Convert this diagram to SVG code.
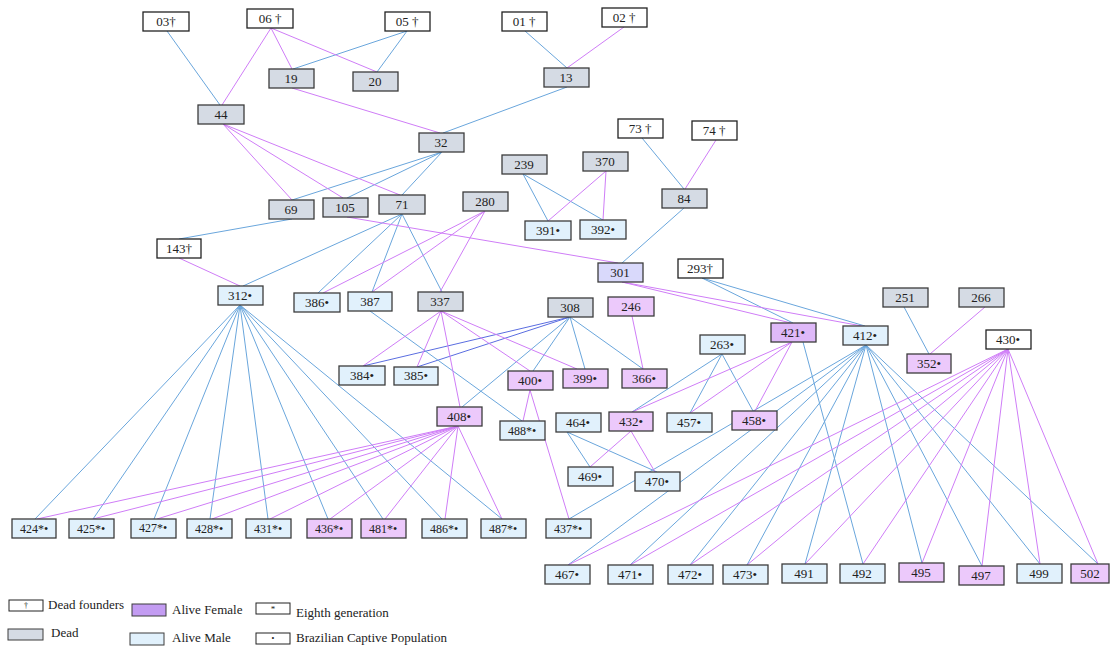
<svg xmlns="http://www.w3.org/2000/svg" width="1110" height="648" viewBox="0 0 1110 648">
<style>
rect{stroke:#3c3c3c;stroke-width:1.3}
.fnd{fill:#ffffff;stroke:#222}
.dead{fill:#d5dbe4}
.male{fill:#e1f1fc}
.fem{fill:#ecc9fb}
.fem2{fill:#dfb9f9}
.lav{fill:#d9d9fb}
.lgr{stroke-width:1}
text{font-family:"Liberation Serif","Times New Roman",serif;font-size:13px;fill:#222;text-anchor:middle}
.s{font-size:12px}
.lg{text-anchor:start;font-size:13px}
line{stroke-width:1;fill:none}
.b{stroke:#6aa6dc}
.bd{stroke:#5a6de0}
.m{stroke:#cf7df7}
</style>
<g id="connectors">
<line class="b" x1="167" y1="31" x2="220" y2="105"/>
<line class="b" x1="407" y1="31" x2="293" y2="69"/>
<line class="b" x1="407" y1="31" x2="377" y2="72"/>
<line class="b" x1="525" y1="31" x2="567" y2="68"/>
<line class="b" x1="567" y1="87" x2="443" y2="133"/>
<line class="b" x1="442" y1="152" x2="292" y2="200"/>
<line class="b" x1="442" y1="152" x2="347" y2="198"/>
<line class="b" x1="442" y1="152" x2="402" y2="195"/>
<line class="b" x1="642" y1="138" x2="684" y2="189"/>
<line class="b" x1="523" y1="174" x2="548" y2="221"/>
<line class="b" x1="523" y1="174" x2="603" y2="220"/>
<line class="b" x1="684" y1="208" x2="622" y2="263"/>
<line class="b" x1="292" y1="219" x2="179" y2="239"/>
<line class="b" x1="402" y1="214" x2="243" y2="286"/>
<line class="b" x1="402" y1="214" x2="318" y2="293"/>
<line class="b" x1="402" y1="214" x2="372" y2="292"/>
<line class="b" x1="402" y1="214" x2="442" y2="292"/>
<line class="b" x1="702" y1="278" x2="793" y2="323"/>
<line class="b" x1="702" y1="278" x2="865" y2="326"/>
<line class="b" x1="904" y1="307" x2="929" y2="354"/>
<line class="bd" x1="570" y1="317" x2="363" y2="366"/>
<line class="bd" x1="570" y1="317" x2="417" y2="367"/>
<line class="b" x1="570" y1="317" x2="462" y2="407"/>
<line class="b" x1="570" y1="317" x2="533" y2="371"/>
<line class="b" x1="570" y1="317" x2="585" y2="369"/>
<line class="b" x1="570" y1="317" x2="643" y2="369"/>
<line class="b" x1="370" y1="311" x2="522" y2="421"/>
<line class="b" x1="722" y1="354" x2="632" y2="412"/>
<line class="b" x1="722" y1="354" x2="690" y2="413"/>
<line class="b" x1="722" y1="354" x2="753" y2="411"/>
<line class="b" x1="567" y1="432" x2="590" y2="467"/>
<line class="b" x1="567" y1="432" x2="657" y2="472"/>
<line class="b" x1="866" y1="345" x2="569" y2="519"/>
<line class="b" x1="866" y1="345" x2="568" y2="565"/>
<line class="b" x1="866" y1="345" x2="630" y2="565"/>
<line class="b" x1="866" y1="345" x2="690" y2="565"/>
<line class="b" x1="866" y1="345" x2="747" y2="565"/>
<line class="b" x1="866" y1="345" x2="805" y2="564"/>
<line class="b" x1="866" y1="345" x2="922" y2="563"/>
<line class="b" x1="866" y1="345" x2="982" y2="566"/>
<line class="b" x1="866" y1="345" x2="1040" y2="564"/>
<line class="b" x1="866" y1="345" x2="1098" y2="564"/>
<line class="b" x1="803" y1="342" x2="863" y2="564"/>
<line class="b" x1="240" y1="305" x2="35" y2="519"/>
<line class="b" x1="240" y1="305" x2="93" y2="519"/>
<line class="b" x1="240" y1="305" x2="154" y2="519"/>
<line class="b" x1="240" y1="305" x2="210" y2="519"/>
<line class="b" x1="240" y1="305" x2="268" y2="519"/>
<line class="b" x1="240" y1="305" x2="328" y2="519"/>
<line class="b" x1="240" y1="305" x2="383" y2="519"/>
<line class="b" x1="240" y1="305" x2="442" y2="519"/>
<line class="b" x1="240" y1="305" x2="502" y2="519"/>
<line class="m" x1="271" y1="28" x2="222" y2="105"/>
<line class="m" x1="271" y1="28" x2="292" y2="69"/>
<line class="m" x1="271" y1="28" x2="377" y2="72"/>
<line class="m" x1="624" y1="27" x2="567" y2="68"/>
<line class="m" x1="292" y1="88" x2="440" y2="133"/>
<line class="m" x1="223" y1="124" x2="292" y2="200"/>
<line class="m" x1="223" y1="124" x2="343" y2="198"/>
<line class="m" x1="223" y1="124" x2="400" y2="195"/>
<line class="m" x1="716" y1="140" x2="685" y2="189"/>
<line class="m" x1="606" y1="171" x2="548" y2="221"/>
<line class="m" x1="606" y1="171" x2="603" y2="220"/>
<line class="m" x1="179" y1="258" x2="240" y2="286"/>
<line class="m" x1="485" y1="211" x2="323" y2="293"/>
<line class="m" x1="485" y1="211" x2="372" y2="292"/>
<line class="m" x1="485" y1="211" x2="440" y2="292"/>
<line class="m" x1="347" y1="217" x2="618" y2="263"/>
<line class="m" x1="622" y1="282" x2="791" y2="323"/>
<line class="m" x1="622" y1="282" x2="862" y2="326"/>
<line class="m" x1="985" y1="307" x2="930" y2="354"/>
<line class="m" x1="441" y1="311" x2="363" y2="366"/>
<line class="m" x1="441" y1="311" x2="417" y2="367"/>
<line class="m" x1="441" y1="311" x2="460" y2="407"/>
<line class="m" x1="441" y1="311" x2="530" y2="371"/>
<line class="m" x1="441" y1="311" x2="577" y2="369"/>
<line class="m" x1="632" y1="316" x2="643" y2="369"/>
<line class="m" x1="530" y1="390" x2="523" y2="421"/>
<line class="m" x1="530" y1="390" x2="569" y2="519"/>
<line class="m" x1="792" y1="342" x2="632" y2="412"/>
<line class="m" x1="792" y1="342" x2="690" y2="413"/>
<line class="m" x1="792" y1="342" x2="755" y2="411"/>
<line class="m" x1="631" y1="431" x2="590" y2="467"/>
<line class="m" x1="631" y1="431" x2="655" y2="472"/>
<line class="m" x1="458" y1="426" x2="37" y2="519"/>
<line class="m" x1="458" y1="426" x2="93" y2="519"/>
<line class="m" x1="458" y1="426" x2="157" y2="519"/>
<line class="m" x1="458" y1="426" x2="212" y2="519"/>
<line class="m" x1="458" y1="426" x2="270" y2="519"/>
<line class="m" x1="458" y1="426" x2="330" y2="519"/>
<line class="m" x1="458" y1="426" x2="385" y2="519"/>
<line class="m" x1="458" y1="426" x2="445" y2="519"/>
<line class="m" x1="458" y1="426" x2="502" y2="519"/>
<line class="m" x1="1008" y1="349" x2="568" y2="565"/>
<line class="m" x1="1008" y1="349" x2="630" y2="565"/>
<line class="m" x1="1008" y1="349" x2="690" y2="565"/>
<line class="m" x1="1008" y1="349" x2="747" y2="565"/>
<line class="m" x1="1008" y1="349" x2="805" y2="564"/>
<line class="m" x1="1008" y1="349" x2="863" y2="564"/>
<line class="m" x1="1008" y1="349" x2="922" y2="563"/>
<line class="m" x1="1008" y1="349" x2="982" y2="566"/>
<line class="m" x1="1008" y1="349" x2="1040" y2="564"/>
<line class="m" x1="1008" y1="349" x2="1098" y2="564"/>
</g>
<g id="n03"><rect class="fnd" x="143" y="12" width="46" height="19"/><text x="166" y="26">03†</text></g>
<g id="n06"><rect class="fnd" x="247" y="9" width="46" height="19"/><text x="270" y="23">06 †</text></g>
<g id="n05"><rect class="fnd" x="385" y="12" width="45" height="19"/><text x="407" y="26">05 †</text></g>
<g id="n01"><rect class="fnd" x="502" y="12" width="45" height="19"/><text x="524" y="26">01 †</text></g>
<g id="n02"><rect class="fnd" x="602" y="8" width="45" height="19"/><text x="624" y="22">02 †</text></g>
<g id="n19"><rect class="dead" x="269" y="69" width="45" height="19"/><text x="291" y="83">19</text></g>
<g id="n20"><rect class="dead" x="353" y="72" width="45" height="19"/><text x="375" y="86">20</text></g>
<g id="n13"><rect class="dead" x="544" y="68" width="45" height="19"/><text x="566" y="82">13</text></g>
<g id="n44"><rect class="dead" x="198" y="105" width="46" height="19"/><text x="221" y="119">44</text></g>
<g id="n32"><rect class="dead" x="419" y="133" width="45" height="19"/><text x="441" y="147">32</text></g>
<g id="n73"><rect class="fnd" x="618" y="119" width="45" height="19"/><text x="640" y="133">73 †</text></g>
<g id="n74"><rect class="fnd" x="692" y="121" width="45" height="19"/><text x="714" y="135">74 †</text></g>
<g id="n239"><rect class="dead" x="502" y="155" width="45" height="19"/><text x="524" y="169">239</text></g>
<g id="n370"><rect class="dead" x="583" y="152" width="45" height="19"/><text x="605" y="166">370</text></g>
<g id="n84"><rect class="dead" x="662" y="189" width="45" height="19"/><text x="684" y="203">84</text></g>
<g id="n69"><rect class="dead" x="269" y="200" width="45" height="19"/><text x="291" y="214">69</text></g>
<g id="n105"><rect class="dead" x="323" y="198" width="45" height="19"/><text x="345" y="212">105</text></g>
<g id="n71"><rect class="dead" x="379" y="195" width="46" height="19"/><text x="402" y="209">71</text></g>
<g id="n280"><rect class="dead" x="463" y="192" width="45" height="19"/><text x="485" y="206">280</text></g>
<g id="n391"><rect class="male" x="525" y="221" width="46" height="19"/><text x="548" y="235">391•</text></g>
<g id="n392"><rect class="male" x="580" y="220" width="46" height="19"/><text x="603" y="234">392•</text></g>
<g id="n143"><rect class="fnd" x="157" y="239" width="44" height="19"/><text x="179" y="253">143†</text></g>
<g id="n301"><rect class="lav" x="598" y="263" width="45" height="19"/><text x="620" y="277">301</text></g>
<g id="n293"><rect class="fnd" x="678" y="259" width="45" height="19"/><text x="700" y="273">293†</text></g>
<g id="n312"><rect class="male" x="218" y="286" width="45" height="19"/><text x="240" y="300">312•</text></g>
<g id="n386"><rect class="male" x="294" y="293" width="46" height="19"/><text x="317" y="307">386•</text></g>
<g id="n387"><rect class="male" x="348" y="292" width="44" height="19"/><text x="370" y="306">387</text></g>
<g id="n337"><rect class="dead" x="418" y="292" width="45" height="19"/><text x="440" y="306">337</text></g>
<g id="n308"><rect class="dead" x="548" y="298" width="45" height="19"/><text x="570" y="312">308</text></g>
<g id="n246"><rect class="fem" x="608" y="297" width="46" height="19"/><text x="631" y="311">246</text></g>
<g id="n251"><rect class="dead" x="883" y="288" width="45" height="19"/><text x="905" y="302">251</text></g>
<g id="n266"><rect class="dead" x="959" y="288" width="45" height="19"/><text x="981" y="302">266</text></g>
<g id="n421"><rect class="fem2" x="771" y="323" width="45" height="19"/><text x="793" y="337">421•</text></g>
<g id="n412"><rect class="male" x="843" y="326" width="45" height="19"/><text x="865" y="340">412•</text></g>
<g id="n430"><rect class="fnd" x="986" y="330" width="45" height="19"/><text x="1008" y="344">430•</text></g>
<g id="n263"><rect class="male" x="700" y="335" width="45" height="19"/><text x="722" y="349">263•</text></g>
<g id="n352"><rect class="fem" x="907" y="354" width="44" height="19"/><text x="929" y="368">352•</text></g>
<g id="n384"><rect class="male" x="339" y="366" width="46" height="19"/><text x="362" y="380">384•</text></g>
<g id="n385"><rect class="male" x="394" y="367" width="44" height="18"/><text x="416" y="380">385•</text></g>
<g id="n400"><rect class="fem" x="508" y="371" width="45" height="19"/><text x="530" y="385">400•</text></g>
<g id="n399"><rect class="fem" x="563" y="369" width="45" height="19"/><text x="585" y="383">399•</text></g>
<g id="n366"><rect class="fem" x="622" y="369" width="45" height="19"/><text x="644" y="383">366•</text></g>
<g id="n408"><rect class="fem" x="437" y="407" width="45" height="19"/><text x="459" y="421">408•</text></g>
<g id="n488"><rect class="male" x="500" y="421" width="45" height="19"/><text class="s" x="522" y="435">488*•</text></g>
<g id="n464"><rect class="male" x="556" y="413" width="45" height="19"/><text x="578" y="427">464•</text></g>
<g id="n432"><rect class="fem" x="609" y="412" width="44" height="19"/><text x="631" y="426">432•</text></g>
<g id="n457"><rect class="male" x="667" y="413" width="45" height="19"/><text x="689" y="427">457•</text></g>
<g id="n458"><rect class="fem" x="732" y="411" width="45" height="19"/><text x="754" y="425">458•</text></g>
<g id="n469"><rect class="male" x="568" y="467" width="45" height="19"/><text x="590" y="481">469•</text></g>
<g id="n470"><rect class="male" x="635" y="472" width="45" height="19"/><text x="657" y="486">470•</text></g>
<g id="n437"><rect class="male" x="546" y="519" width="45" height="19"/><text class="s" x="568" y="533">437*•</text></g>
<g id="n424"><rect class="male" x="12" y="519" width="44" height="19"/><text class="s" x="34" y="533">424*•</text></g>
<g id="n425"><rect class="male" x="69" y="519" width="45" height="19"/><text class="s" x="91" y="533">425*•</text></g>
<g id="n427"><rect class="male" x="131" y="519" width="45" height="19"/><text class="s" x="153" y="532">427*•</text></g>
<g id="n428"><rect class="male" x="187" y="519" width="45" height="19"/><text class="s" x="209" y="533">428*•</text></g>
<g id="n431"><rect class="male" x="246" y="519" width="45" height="19"/><text class="s" x="268" y="533">431*•</text></g>
<g id="n436"><rect class="fem" x="307" y="519" width="45" height="19"/><text class="s" x="329" y="533">436*•</text></g>
<g id="n481"><rect class="fem" x="361" y="519" width="45" height="19"/><text class="s" x="383" y="533">481*•</text></g>
<g id="n486"><rect class="male" x="422" y="519" width="45" height="19"/><text class="s" x="444" y="533">486*•</text></g>
<g id="n487"><rect class="male" x="481" y="519" width="45" height="19"/><text class="s" x="503" y="533">487*•</text></g>
<g id="n467"><rect class="male" x="545" y="565" width="45" height="19"/><text x="567" y="579">467•</text></g>
<g id="n471"><rect class="male" x="608" y="565" width="45" height="19"/><text x="630" y="579">471•</text></g>
<g id="n472"><rect class="male" x="668" y="565" width="45" height="19"/><text x="690" y="579">472•</text></g>
<g id="n473"><rect class="male" x="723" y="565" width="45" height="19"/><text x="745" y="579">473•</text></g>
<g id="n491"><rect class="male" x="782" y="564" width="45" height="19"/><text x="804" y="578">491</text></g>
<g id="n492"><rect class="male" x="840" y="564" width="45" height="19"/><text x="862" y="578">492</text></g>
<g id="n495"><rect class="fem" x="899" y="563" width="45" height="19"/><text x="921" y="577">495</text></g>
<g id="n497"><rect class="fem" x="959" y="566" width="45" height="19"/><text x="981" y="580">497</text></g>
<g id="n499"><rect class="male" x="1017" y="564" width="45" height="19"/><text x="1039" y="578">499</text></g>
<g id="n502"><rect class="fem" x="1071" y="564" width="38" height="19"/><text x="1090" y="578">502</text></g>
<g id="legend">
<rect class="fnd lgr" x="9" y="600" width="34" height="11"/><text x="26" y="608" style="font-size:8px">†</text>
<text class="lg" x="48" y="609">Dead founders</text>
<rect class="dead lgr" x="8" y="629" width="35" height="11"/>
<text class="lg" x="51" y="637">Dead</text>
<rect class="lgr" x="132" y="604" width="34" height="12" style="fill:#c39cf2"/>
<text class="lg" x="172" y="614">Alive Female</text>
<rect class="male lgr" x="130" y="633" width="34" height="12"/>
<text class="lg" x="172" y="642">Alive Male</text>
<rect class="fnd lgr" x="256" y="603" width="34" height="11"/><text x="273" y="612" style="font-size:9px">*</text>
<text class="lg" x="296" y="617">Eighth  generation</text>
<rect class="fnd lgr" x="256" y="633" width="34" height="11"/><text x="273" y="641" style="font-size:8px">•</text>
<text class="lg" x="296" y="642">Brazilian  Captive Population</text>
</g>
</svg>
